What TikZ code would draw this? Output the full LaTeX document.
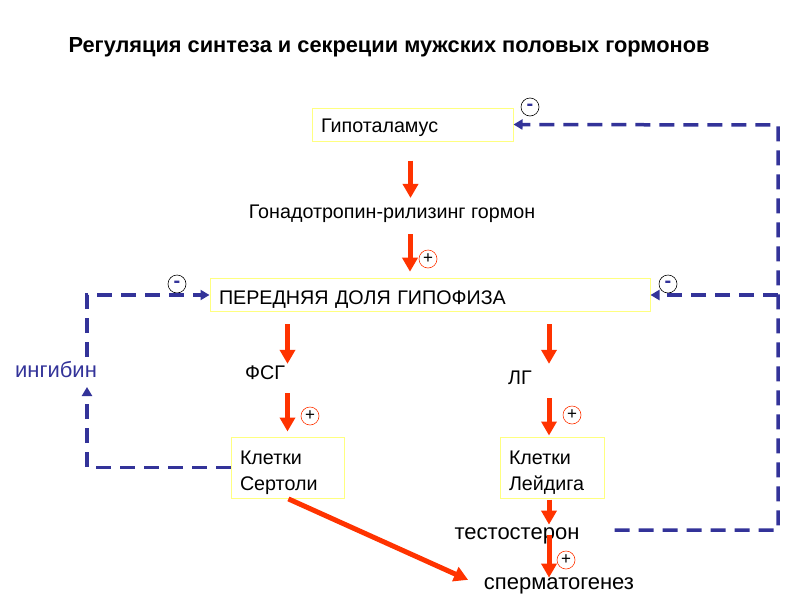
\documentclass[tikz,border=0pt]{standalone}
\usepackage{fontspec}
\setmainfont{Liberation Sans}
\usetikzlibrary{arrows.meta}
\definecolor{hormred}{HTML}{FF3300}
\definecolor{loopblue}{HTML}{333399}
\definecolor{boxyellow}{HTML}{FFFF80}
\tikzset{
    organ/.style={draw=boxyellow, line width=1pt, inner xsep=9pt, align=left, text height=21pt, font=\fontsize{19.7}{26}\selectfont},
    hormone/.style={inner sep=2pt, font=\fontsize{19.7}{22}\selectfont},
    product/.style={inner sep=2pt, font=\fontsize{22}{24}\selectfont},
    redarrow/.style={hormred, line width=5pt, -{Triangle[width=15pt,length=14pt]}},
    feedback/.style={loopblue, line width=3.5pt, dash pattern=on 15pt off 9pt, -{Triangle[width=10pt,length=9pt]}},
    plussign/.style={circle, draw=hormred, line width=0.6pt, minimum size=18pt, inner sep=0pt, font=\fontsize{17}{17}\selectfont},
    minussign/.style={circle, draw=black, line width=0.6pt, minimum size=18pt, inner sep=0pt, text=loopblue, font=\bfseries\fontsize{20}{20}\selectfont}
}
\begin{document}
\begin{tikzpicture}[x=1pt, y=-1pt]
    \useasboundingbox (0, 0) rectangle (800, 600);
    \node[font=\bfseries\fontsize{21.8}{24}\selectfont] (title) at (389, 47) {Регуляция синтеза и секреции мужских половых гормонов};
    % organs
    \node[organ, text width=183pt, minimum height=33pt] (hyp) at (412.5, 124.5) {Гипоталамус};
    \node[organ, text width=422pt, minimum height=32pt, text height=23pt] (pit) at (430, 295) {ПЕРЕДНЯЯ ДОЛЯ ГИПОФИЗА};
    \node[organ, text width=95pt, minimum height=61pt, text height=24pt] (sertoli) at (287.5, 467.5) {Клетки\\Сертоли};
    \node[organ, text width=86pt, minimum height=61pt, text height=24pt] (leydig) at (552, 467.5) {Клетки\\Лейдига};
    % hormones
    \node[hormone] (gnrh) at (392, 214) {Гонадотропин-рилизинг гормон};
    \node[hormone] (fsh) at (265, 373) {ФСГ};
    \node[hormone] (lh) at (520, 378) {ЛГ};
    \node[product] (testo) at (517, 536) {тестостерон};
    \node[product] (sperm) at (559, 586) {сперматогенез};
    \node[product, text=loopblue] (inhibin) at (56, 370) {ингибин};
    % signs
    \node[minussign] (minushyp) at (530, 107) {-};
    \node[minussign] (minuspitl) at (177, 284) {-};
    \node[minussign] (minuspitr) at (668, 284) {-};
    \node[plussign] (plusgnrh) at (428, 259) {+};
    \node[plussign] (plusfsh) at (310, 416) {+};
    \node[plussign] (pluslh) at (572, 415) {+};
    \node[plussign] (plustesto) at (566, 560) {+};
    % red arrows
    \draw[redarrow, shorten <=19pt, shorten >=5pt] ([xshift=-2pt]hyp.south) -- ([xshift=-2pt]hyp.south |- gnrh.north);
    \draw[redarrow, shorten <=9pt, shorten >=6pt] ([xshift=18pt]gnrh.south) -- ([xshift=18pt]gnrh.south |- pit.north);
    \draw[redarrow, shorten <=12pt, shorten >=0pt] (sertoli |- pit.south) -- (sertoli |- fsh.north);
    \draw[redarrow, shorten <=12pt, shorten >=0pt] ([xshift=-3pt]leydig |- pit.south) -- ([xshift=-3pt]leydig |- fsh.north);
    \draw[redarrow, shorten <=11pt, shorten >=5pt] (sertoli |- fsh.south) -- (sertoli.north);
    \draw[redarrow, shorten <=11pt, shorten >=1pt] ([xshift=-3pt]leydig |- lh.south) -- ([xshift=-3pt]leydig.north);
    \draw[redarrow, shorten <=1pt, shorten >=1pt] ([xshift=-3pt]leydig.south) -- ([xshift=-3pt]leydig.south |- testo.north);
    \draw[redarrow, shorten <=-11pt, shorten >=-2pt] ([xshift=-3pt]leydig.south |- testo.south) -- ([xshift=-3pt]leydig.south |- sperm.north);
    \draw[redarrow, shorten <=1pt, shorten >=15pt] (sertoli.south) -- (sperm.west);
    % feedback loops
    \coordinate (rail) at (778, 125);
    \coordinate (inhlo) at (87, 387);
    \coordinate (inhhi) at (87, 357);
    \draw[feedback, shorten <=33pt] ([yshift=6pt]testo.east) -| (rail) -- (hyp.east);
    \draw[feedback] (rail |- pit.east) -- (pit.east);
    \draw[feedback] (sertoli.west) -| (inhlo);
    \draw[feedback] (inhhi) |- (pit.west);
\end{tikzpicture}
\end{document}
